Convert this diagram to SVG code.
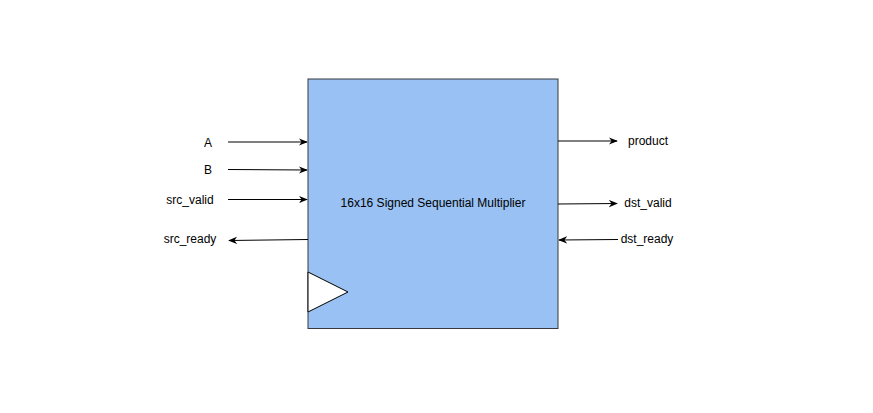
<svg xmlns="http://www.w3.org/2000/svg" width="873" height="413" viewBox="0 0 873 413">
<style>
text{font-family:"Liberation Sans",Arial,sans-serif;font-size:12px;fill:#000}
.w{stroke:#000;stroke-width:1;fill:none}
</style>
<defs>
<marker id="ah" viewBox="0 0 10 10" refX="9" refY="5" markerWidth="9" markerHeight="9" markerUnits="userSpaceOnUse" orient="auto">
<path d="M0,1 L10,5 L0,9 L3,5 Z" fill="#000"/>
</marker>
</defs>
<rect width="873" height="413" fill="#fff"/>
<g id="multiplier">
<rect x="308" y="79" width="250" height="249.5" fill="#99c1f3" stroke="#36393d" stroke-width="1"/>
<polygon points="308,272 348,292 308,312" fill="#fff" stroke="#000" stroke-width="1"/>
<text x="433" y="207" text-anchor="middle">16x16 Signed Sequential Multiplier</text>
</g>
<g id="connectors">
<path class="w" d="M228,142 L307,142" marker-end="url(#ah)"/>
<path class="w" d="M228,169.5 L307,170" marker-end="url(#ah)"/>
<path class="w" d="M228,199.5 L307,199.5" marker-end="url(#ah)"/>
<path class="w" d="M308,239.5 L229,240.5" marker-end="url(#ah)"/>
<path class="w" d="M558,141 L617,141" marker-end="url(#ah)"/>
<path class="w" d="M558,204 L617,203.5" marker-end="url(#ah)"/>
<path class="w" d="M618,239.5 L559,240" marker-end="url(#ah)"/>
</g>
<g id="label-A"><text x="208" y="146.5" text-anchor="middle">A</text></g>
<g id="label-B"><text x="208" y="174" text-anchor="middle">B</text></g>
<g id="label-src_valid"><text x="190" y="204" text-anchor="middle">src_valid</text></g>
<g id="label-src_ready"><text x="190" y="243" text-anchor="middle">src_ready</text></g>
<g id="label-product"><text x="648" y="145" text-anchor="middle">product</text></g>
<g id="label-dst_valid"><text x="648" y="207" text-anchor="middle">dst_valid</text></g>
<g id="label-dst_ready"><text x="647" y="243" text-anchor="middle">dst_ready</text></g>
</svg>
